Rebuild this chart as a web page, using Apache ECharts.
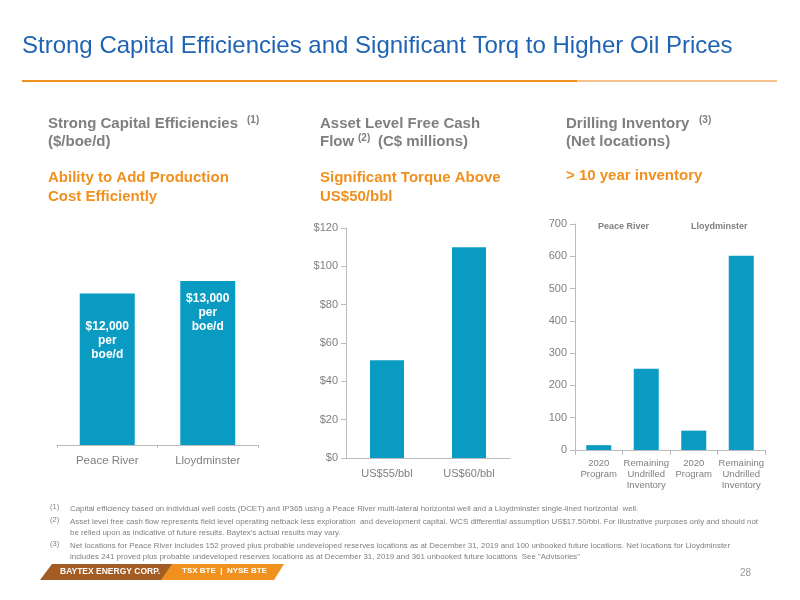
<!DOCTYPE html>
<html>
<head>
<meta charset="utf-8"/>
<script src="https://cdn.jsdelivr.net/npm/echarts@6/dist/echarts.min.js"></script>
<style>html,body{margin:0;padding:0;background:#fff}#chart{width:800px;height:600px}</style>
</head>
<body>
<div id="chart"></div>
<script>
    // chart 1: capital efficiency ($/boe/d)
    var effCats = ['Peace River', 'Lloydminster'];
    var effValues = [12000, 13000];
    var effLabels = ['$12,000\nper\nboe/d', '$13,000\nper\nboe/d'];
    var effLabelGap = [26, 11];
    // chart 2: asset level free cash flow
    var fcfCats = ['US$55/bbl', 'US$60/bbl'];
    var fcfValues = [51, 110];
    // chart 3: drilling inventory
    var invCats = ['2020\nProgram', 'Remaining\nUndrilled\nInventory', '2020\nProgram', 'Remaining\nUndrilled\nInventory'];
    var invValues = [15, 252, 60, 602];

    var barColor = '#0a9bc2';
    var orange = '#f0901e';
    var grey = '#7f7f7f';
    var font = 'Liberation Sans, Arial, sans-serif';

    var myChart = echarts.init(document.getElementById('chart'));

    function txt(x, y, text, size, color, weight, extra) {
        var s = {text: text, fontSize: size, fill: color, fontWeight: weight || 'normal', fontFamily: font};
        if (extra) for (var k in extra) s[k] = extra[k];
        return {type: 'text', left: x, top: y, style: s};
    }

    var notes = [
        ['(1)', 'Capital efficiency based on individual well costs (DCET) and IP365 using a Peace River multi-lateral horizontal well and a Lloydminster single-lined horizontal  well.'],
        ['(2)', 'Asset level free cash flow represents field level operating netback less exploration  and development capital. WCS differential assumption US$17.50/bbl. For illustrative purposes only and should not\nbe relied upon as indicative of future results. Baytex\'s actual results may vary.'],
        ['(3)', 'Net locations for Peace River includes 152 proved plus probable undeveloped reserves locations as at December 31, 2019 and 100 unbooked future locations. Net locations for Lloydminster\nincludes 241 proved plus probable undeveloped reserves locations as at December 31, 2019 and 361 unbooked future locations  See "Advisories"']
    ];
    var noteY = [503, 516, 540];

    var graphics = [
        txt(22, 34, 'Strong Capital Efficiencies and Significant Torq to Higher Oil Prices', 24, '#1f64b4'),
        {type: 'rect', shape: {x: 22, y: 80, width: 555, height: 2}, style: {fill: orange}},
        {type: 'rect', shape: {x: 577, y: 80, width: 200, height: 2}, style: {fill: '#f6c48a'}},
        txt(48, 116, 'Strong Capital Efficiencies', 15, grey, 'bold'),
        txt(247, 115, '(1)', 10, grey, 'bold'),
        txt(48, 134, '($/boe/d)', 15, grey, 'bold'),
        txt(48, 168, 'Ability to Add Production\nCost Efficiently', 15, orange, 'bold', {lineHeight: 19}),
        txt(320, 116, 'Asset Level Free Cash', 15, grey, 'bold'),
        txt(320, 134, 'Flow', 15, grey, 'bold'),
        txt(358, 133, '(2)', 10, grey, 'bold'),
        txt(378, 134, '(C$ millions)', 15, grey, 'bold'),
        txt(320, 168, 'Significant Torque Above\nUS$50/bbl', 15, orange, 'bold', {lineHeight: 19}),
        txt(566, 116, 'Drilling Inventory', 15, grey, 'bold'),
        txt(699, 115, '(3)', 10, grey, 'bold'),
        txt(566, 134, '(Net locations)', 15, grey, 'bold'),
        txt(566, 168, '> 10 year inventory', 15, orange, 'bold'),
        txt(598, 222, 'Peace River', 9, grey, 'bold'),
        txt(691, 222, 'Lloydminster', 9, grey, 'bold'),
        {type: 'polygon', shape: {points: [[52, 564], [176, 564], [165, 580], [40, 580]]}, style: {fill: '#a35c23'}},
        {type: 'polygon', shape: {points: [[172, 564], [284, 564], [274, 580], [161, 580]]}, style: {fill: orange}},
        txt(60, 567, 'BAYTEX ENERGY CORP.', 8.5, '#fff', 'bold'),
        txt(182, 567, 'TSX BTE  |  NYSE BTE', 8, '#fff', 'bold'),
        txt(740, 568, '28', 10, '#999')
    ];
    for (var i = 0; i < notes.length; i++) {
        graphics.push(txt(50, noteY[i], notes[i][0], 7.5, grey));
        graphics.push(txt(70, noteY[i], notes[i][1], 7.9, grey, 'normal', {lineHeight: 11}));
    }

    var effData = effValues.map(function (v, i) {
        return {value: v, label: {distance: effLabelGap[i]}};
    });

    var option = {
        animation: false,
        graphic: graphics,
        grid: [
            {left: 57, top: 117, width: 201, height: 328},
            {left: 346, top: 228, width: 164, height: 230},
            {left: 575, top: 224, width: 190, height: 226}
        ],
        xAxis: [
            {gridIndex: 0, type: 'category', data: effCats, axisTick: {show: true, length: 3, lineStyle: {color: '#bbb'}},
                axisLine: {lineStyle: {color: '#bbb'}}, axisLabel: {color: grey, fontSize: 11.5, margin: 10, fontFamily: font}},
            {gridIndex: 1, type: 'category', data: fcfCats, axisTick: {show: false},
                axisLine: {lineStyle: {color: '#bbb'}}, axisLabel: {color: grey, fontSize: 11, margin: 10, fontFamily: font}},
            {gridIndex: 2, type: 'category', data: invCats, axisTick: {show: true, lineStyle: {color: '#bbb'}},
                axisLine: {lineStyle: {color: '#bbb'}}, axisLabel: {color: grey, fontSize: 9.5, interval: 0, lineHeight: 11, fontFamily: font}}
        ],
        yAxis: [
            {gridIndex: 0, type: 'value', min: 0, max: 26000, show: false},
            {gridIndex: 1, type: 'value', min: 0, max: 120, interval: 20, splitLine: {show: false},
                axisLine: {show: true, lineStyle: {color: '#bbb'}}, axisTick: {show: true, lineStyle: {color: '#bbb'}},
                axisLabel: {color: grey, fontSize: 11, fontFamily: font, formatter: '${value}'}},
            {gridIndex: 2, type: 'value', min: 0, max: 700, interval: 100, splitLine: {show: false},
                axisLine: {show: true, lineStyle: {color: '#bbb'}}, axisTick: {show: true, lineStyle: {color: '#bbb'}},
                axisLabel: {color: grey, fontSize: 11, fontFamily: font}}
        ],
        series: [
            {type: 'bar', xAxisIndex: 0, yAxisIndex: 0, data: effData, barWidth: 55, itemStyle: {color: barColor},
                label: {show: true, position: 'insideTop', color: '#fff', fontWeight: 'bold', fontSize: 12,
                    lineHeight: 14, fontFamily: font,
                    formatter: function (p) { return effLabels[p.dataIndex]; }}},
            {type: 'bar', xAxisIndex: 1, yAxisIndex: 1, data: fcfValues, barWidth: 34, itemStyle: {color: barColor}},
            {type: 'bar', xAxisIndex: 2, yAxisIndex: 2, data: invValues, barWidth: 25, itemStyle: {color: barColor}}
        ]
    };
    myChart.setOption(option);
</script>
</body>
</html>
